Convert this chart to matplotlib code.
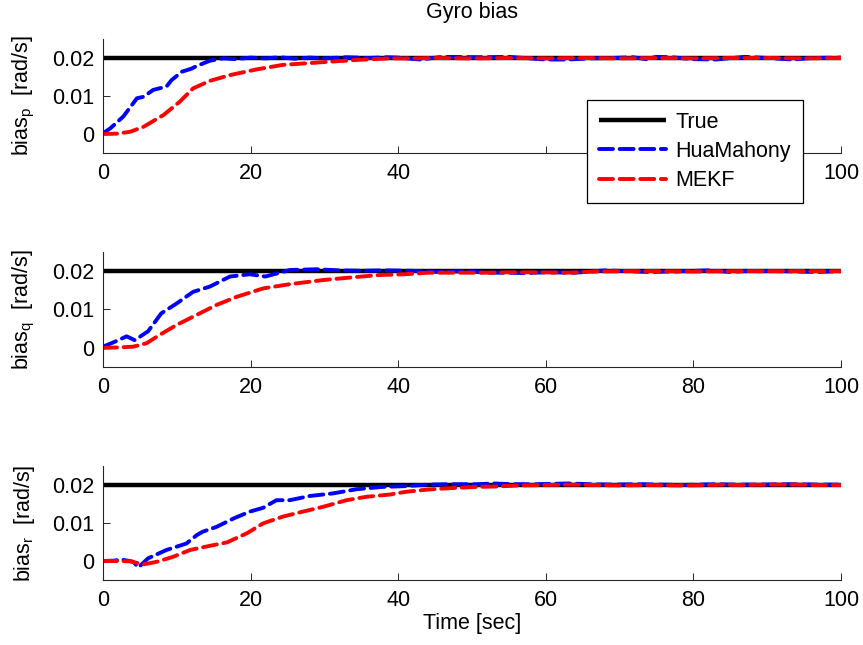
import matplotlib
matplotlib.use('Agg')
import matplotlib.pyplot as plt
import numpy as np

plt.rcParams['font.family'] = ['Liberation Sans', 'DejaVu Sans']
plt.rcParams['mathtext.fontset'] = 'custom'
plt.rcParams['mathtext.rm'] = 'Liberation Sans'
plt.rcParams['mathtext.it'] = 'Liberation Sans'

### DATA
true_bias = 0.02

# p axis
t_hua_p = [0, 1, 2.75, 4.6, 5.5, 6.8, 8.6, 9.3, 10.7, 12, 12.7, 14.5, 16.3, 18, 20, 22, 24,
           26, 28, 30, 33, 36, 38.5, 40, 43, 46, 51.5, 55, 60, 63, 66, 69, 71.8, 73.6, 75,
           77, 80, 83, 87, 90, 93.5, 96, 100]
b_hua_p = [0.0002, 0.0015, 0.0046, 0.0094, 0.0098, 0.0116, 0.0125, 0.0142, 0.0164, 0.0172,
           0.0179, 0.0193, 0.0199, 0.0197, 0.0201, 0.0199, 0.0202, 0.0198, 0.0201, 0.0199,
           0.0202, 0.0200, 0.0202, 0.0201, 0.0196, 0.0203, 0.0202, 0.0203, 0.0196, 0.0196,
           0.0199, 0.0200, 0.0202, 0.0197, 0.0203, 0.0202, 0.0197, 0.0196, 0.0203, 0.0200,
           0.0196, 0.0200, 0.0201]
t_mekf_p = [0, 2, 3.7, 5.5, 8.2, 10.4, 12.2, 14.5, 17.2, 20.8, 24.4, 29, 34.4, 38.9, 42, 45,
            50, 55, 60, 65, 70, 75, 80, 85, 90, 95, 100]
b_mekf_p = [0.0, 0.0001, 0.0006, 0.0019, 0.005, 0.0085, 0.012, 0.014, 0.0155, 0.017, 0.0182,
            0.0188, 0.0195, 0.0199, 0.0199, 0.0200, 0.0199, 0.0200, 0.0199, 0.0200, 0.0199,
            0.0200, 0.0199, 0.0200, 0.0200, 0.0199, 0.0200]

# q axis
t_hua_q = [0, 1.5, 3.2, 4.3, 6.1, 7.9, 10, 12.2, 14.5, 17.2, 19.9, 22, 25.3, 29, 32, 35,
           38.1, 41.7, 45.3, 49, 52, 55, 57, 60, 64, 68, 71, 74, 79, 82, 85, 87, 92, 96.6, 100]
b_hua_q = [0.0003, 0.0015, 0.003, 0.002, 0.0043, 0.009, 0.0116, 0.0146, 0.016, 0.0186,
           0.0192, 0.0186, 0.0203, 0.0205, 0.0202, 0.0201, 0.0202, 0.0201, 0.0198, 0.0200,
           0.0196, 0.0196, 0.0195, 0.0197, 0.0196, 0.0202, 0.0200, 0.0198, 0.0200, 0.0202,
           0.0198, 0.0200, 0.0200, 0.0198, 0.0200]
t_mekf_q = [0, 2, 4.1, 5.9, 7.7, 10, 12.7, 15.4, 18.1, 21.7, 25.3, 29.9, 34.4, 37.5, 41, 44,
            48, 52, 55, 59, 63, 66.5, 70.6, 75, 80, 85, 90, 95, 100]
b_mekf_q = [0.0, 0.0001, 0.0003, 0.0012, 0.0034, 0.006, 0.0086, 0.0112, 0.0133, 0.0155,
            0.0166, 0.0177, 0.0185, 0.0190, 0.0192, 0.0196, 0.0196, 0.0196, 0.0197, 0.0197,
            0.0196, 0.0199, 0.0200, 0.0200, 0.0199, 0.0200, 0.0200, 0.0200, 0.0200]

# r axis
t_hua_r = [0, 1.5, 2.5, 4.1, 4.8, 6.1, 8.6, 11.3, 12.7, 13.5, 15.4, 17.7, 19.9, 21.7, 23.5,
           25.3, 28, 31.2, 34.4, 37.9, 41, 44, 47, 50.6, 52.9, 55.6, 58.8, 63, 66, 69, 73,
           75.6, 78.4, 83, 85.6, 88.8, 92.9, 97, 100]
b_hua_r = [0.0, 0.0001, 0.0004, -0.0002, -0.0017, 0.0007, 0.0029, 0.0046, 0.0068, 0.0077,
           0.009, 0.0112, 0.013, 0.014, 0.016, 0.016, 0.0171, 0.0178, 0.0189, 0.0195, 0.0197,
           0.0201, 0.0202, 0.0202, 0.0204, 0.0202, 0.0202, 0.0204, 0.0202, 0.0201, 0.0202,
           0.0201, 0.0200, 0.0202, 0.0201, 0.0201, 0.0202, 0.0201, 0.0201]
t_mekf_r = [0, 2, 3.7, 5.5, 7.3, 9.5, 11.8, 14.5, 16.8, 19.5, 21.7, 24.4, 27.1, 29.9, 33,
            35.7, 38.9, 41, 44, 47.3, 50.6, 53.3, 56.5, 60, 63, 67, 70, 74, 77.6, 80, 84, 86,
            90, 94, 97, 100]
b_mekf_r = [0.0, 0.0, -0.0001, -0.0009, -0.0002, 0.0011, 0.0029, 0.004, 0.0049, 0.0073,
            0.0099, 0.0117, 0.013, 0.0143, 0.016, 0.0169, 0.0175, 0.0182, 0.0188, 0.0192,
            0.0195, 0.0196, 0.0199, 0.0200, 0.0201, 0.0200, 0.0199, 0.0200, 0.0199, 0.0199,
            0.0201, 0.0200, 0.0201, 0.0201, 0.0200, 0.0200]

series = [
    ('p', t_hua_p, b_hua_p, t_mekf_p, b_mekf_p),
    ('q', t_hua_q, b_hua_q, t_mekf_q, b_mekf_q),
    ('r', t_hua_r, b_hua_r, t_mekf_r, b_mekf_r),
]

### PLOTTING
W, H = 863, 645
fig = plt.figure(figsize=(W / 100, H / 100), dpi=100)

left, right = 103 / W, 841 / W
tops = [39, 252, 466]
bottoms = [153, 367, 580]
fs = 15.5
lw = 2.8
dash = (3.6, 1.7)

handles = None
for i, (name, th, bh, tm, bm) in enumerate(series):
    y0 = 1 - bottoms[i] / H
    y1 = 1 - tops[i] / H
    ax = fig.add_axes([left, y0, right - left, y1 - y0])
    l_true, = ax.plot([0, 100], [true_bias, true_bias], color='k', lw=lw + 0.4,
                      solid_capstyle='butt')
    l_hua, = ax.plot(th, bh, color=(0, 0, 1), lw=lw, dashes=dash, dash_capstyle='round')
    l_mekf, = ax.plot(tm, bm, color=(1, 0, 0), lw=lw, dashes=dash, dash_capstyle='round')
    handles = [l_true, l_hua, l_mekf]

    ax.set_xlim(0, 100)
    ax.set_ylim(-0.005, 0.025)
    ax.set_xticks([0, 20, 40, 60, 80, 100])
    if i == 0:
        # 60 and 80 sit under the legend box
        ax.set_xticklabels(['0', '20', '40', '', '', '100'])
    ax.set_yticks([0, 0.01, 0.02])
    ax.set_yticklabels(['0', '0.01', '0.02'])
    ax.tick_params(direction='in', length=5, width=0.7, labelsize=fs, pad=6,
                   colors='#262626', labelcolor='k')
    ax.tick_params(axis='x', pad=7)
    for s in ['top', 'right']:
        ax.spines[s].set_visible(False)
    for s in ['left', 'bottom']:
        ax.spines[s].set_color('#262626')
        ax.spines[s].set_linewidth(0.8)
    ax.set_ylabel('bias$_{\\mathrm{' + name + '}}$  [rad/s]', fontsize=fs)
    ax.yaxis.set_label_coords(-0.09, 0.5)

    if i == 0:
        ax.set_title('Gyro bias', fontsize=fs, pad=15)
    if i == 2:
        ax.set_xlabel('Time [sec]', fontsize=fs, labelpad=2)

leg = fig.legend(handles, ['True', 'HuaMahony', 'MEKF'], loc='upper left',
                 bbox_to_anchor=(587 / W, 1 - 100 / H), borderaxespad=0,
                 fontsize=fs, handlelength=3.1, handletextpad=0.45,
                 labelspacing=0.38, borderpad=0.55, fancybox=False,
                 framealpha=1, edgecolor='k')
leg.get_frame().set_linewidth(0.9)

fig.savefig('out.png', dpi=100)
